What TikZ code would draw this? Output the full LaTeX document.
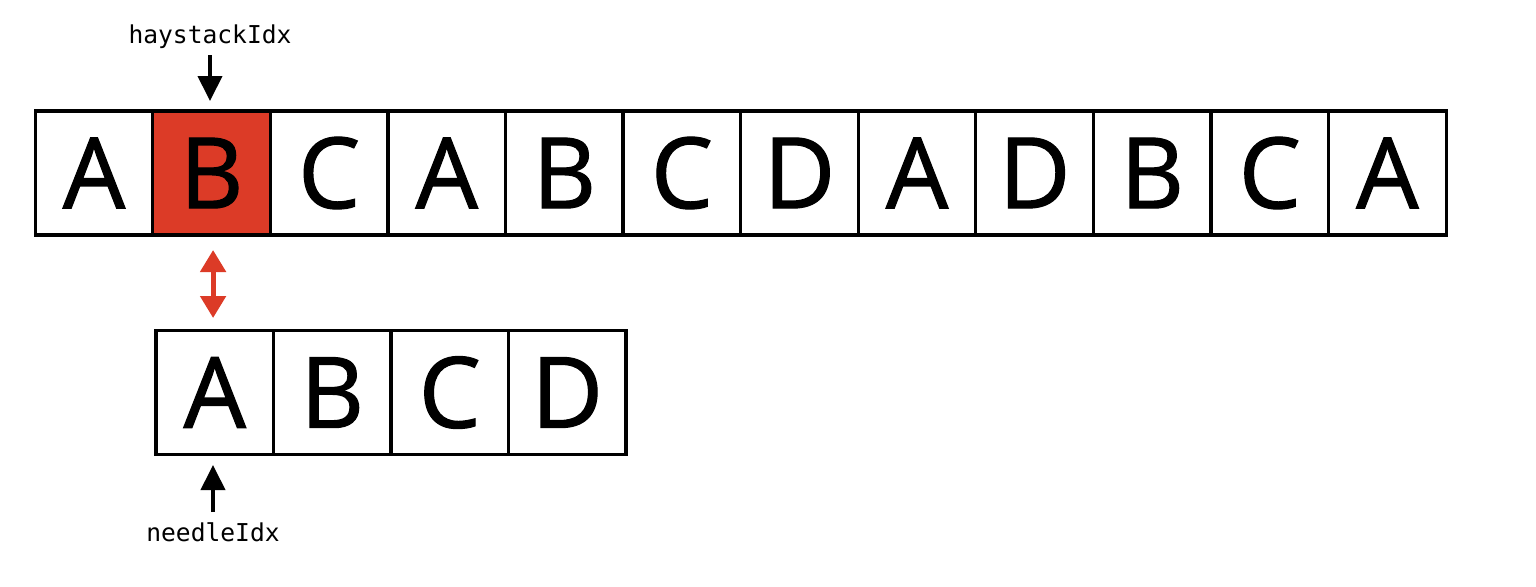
\documentclass[tikz,border=0pt]{standalone}
\usepackage{fontspec}
\setmainfont{Open Sans}
\setmonofont{DejaVu Sans Mono}
\usepackage{xcolor}
\usepackage{tikz}
\usetikzlibrary{arrows.meta,positioning}
\definecolor{hit}{HTML}{DC3B27}

\begin{document}
\begin{tikzpicture}[
cell/.style={
    rectangle, draw, line width=0.065cm,
    minimum width=2.352cm,
    minimum height=2.48cm,
    inner sep=0pt, outer sep=0pt,
    font=\addfontfeature{FakeBold=1.2}\fontsize{56}{60}\selectfont
},
idx/.style={
    font=\ttfamily\fontsize{14}{16}\selectfont
},
arr/.style={-{Triangle[length=0.5cm, width=0.48cm]}, line width=0.08cm},
dbl/.style={{Triangle[length=0.44cm, width=0.5cm]}-{Triangle[length=0.44cm, width=0.5cm]}, line width=0.1cm, hit}
]
\useasboundingbox (0,0) rectangle (30.72,-11.72);

% haystack
\foreach \c/\f [count=\i] in {A/white,B/hit,C/white,A/white,B/white,C/white,D/white,A/white,D/white,B/white,C/white,A/white}
  \node[cell, fill=\f] (h\i) at ({1.88+(\i-1)*2.3516},-3.46) {\c};

% needle
\foreach \c [count=\i] in {A,B,C,D}
  \node[cell] (n\i) at ({4.295+(\i-1)*2.35},-7.85) {\c};

\node[idx] (hlab) at (4.2,-0.74) {haystackIdx};
\node[idx] (nlab) at (4.26,-10.64) {needleIdx};

\draw[arr] ([yshift=-0.36cm]hlab.center) -- ([yshift=0.2cm]hlab.center |- h2.north);
\draw[arr] ([yshift=0.4cm]nlab.center) -- ([yshift=-0.21cm]nlab.center |- n1.south);
\draw[dbl] ([xshift=0.03cm, yshift=-0.3cm]h2.south) -- ([xshift=0.03cm, yshift=0.25cm]h2.south |- n1.north);

\end{tikzpicture}
\end{document}
